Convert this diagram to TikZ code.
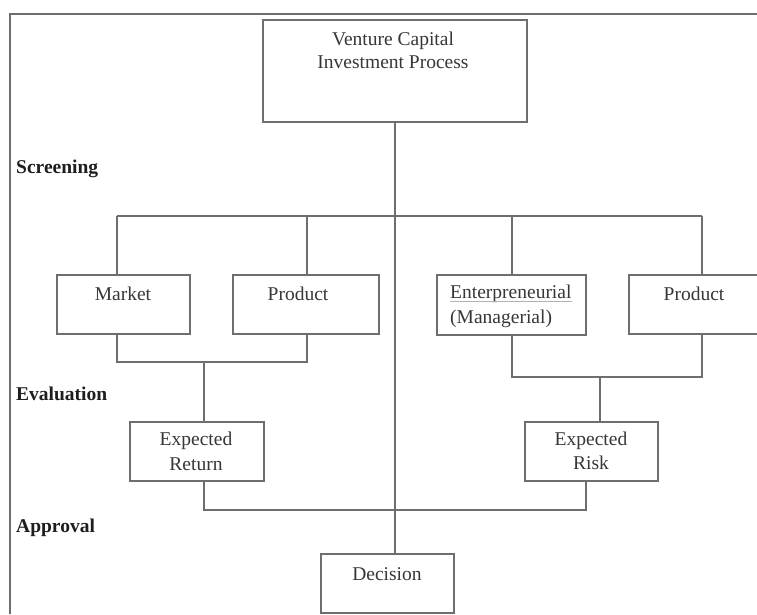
\documentclass[tikz,border=0pt]{standalone}
\usepackage{fontspec}
\setmainfont{Liberation Serif}
\definecolor{lc}{RGB}{110,110,110}
\definecolor{tc}{RGB}{55,55,55}
\definecolor{bc}{RGB}{30,30,30}
\begin{document}
\begin{tikzpicture}[x=1pt,y=-1pt,
  line/.style={draw=lc,line width=1.8pt},
  box/.style={rectangle,draw=lc,line width=1.8pt,inner sep=0pt,minimum height=59pt},
  txt/.style={inner sep=0pt,anchor=base,font=\fontsize{19.5}{23}\selectfont,text=tc},
  txtl/.style={inner sep=0pt,anchor=base west,font=\fontsize{19.5}{23}\selectfont,text=tc},
  lab/.style={inner sep=0pt,anchor=base west,font=\fontsize{19.5}{23}\selectfont\bfseries,text=bc}]
\useasboundingbox (0,0) rectangle (757,614);
\fill[white] (0,0) rectangle (757,614);
% frame
\coordinate (f1) at (10,614);
\coordinate (f2) at (10,14);
\coordinate (f3) at (757,14);
\draw[line] (f1) -- (f2) -- (f3);
% boxes
\node[box,minimum width=264pt,minimum height=102pt] (top) at (395,71) {};
\node[box,minimum width=133pt] (market) at (123.5,304.5) {};
\node[box,minimum width=146pt] (prod1) at (306,304.5) {};
\node[box,minimum width=149pt,minimum height=60pt] (ent) at (511.5,305) {};
\node[box,minimum width=146pt] (prod2) at (702,304.5) {};
\node[box,minimum width=134pt] (ret) at (197,451.5) {};
\node[box,minimum width=133pt] (risk) at (591.5,451.5) {};
\node[box,minimum width=133pt] (dec) at (387.5,583.5) {};
% texts
\node[txt] (topa) at (393,45) {Venture Capital};
\node[txt] (topb) at (393,68) {Investment Process};
\node[txt] (markett) at (123,300) {Market};
\node[txt] (prod1t) at (298,300) {Product};
\node[txtl] (enta) at (450,298) {Enterpreneurial};
\node[txtl] (entb) at (450,323) {(Managerial)};
\node[txt] (prod2t) at (694,300) {Product};
\node[txt] (reta) at (196,445) {Expected};
\node[txt] (retb) at (196,470) {Return};
\node[txt] (riska) at (591,445) {Expected};
\node[txt] (riskb) at (591,469) {Risk};
\node[txt] (dect) at (387,580) {Decision};
\draw[draw=gray!60,line width=1.2pt] ([yshift=-3.5pt]enta.base west) -- ([yshift=-3.5pt]enta.base east);
% stage labels
\node[lab] (scr) at (16,173) {Screening};
\node[lab] (eva) at (16,400) {Evaluation};
\node[lab] (app) at (16,532) {Approval};
% junction coordinates
\coordinate (j1) at (117,216);
\coordinate (j2) at (307,216);
\coordinate (j3) at (512,216);
\coordinate (j4) at (702,216);
\coordinate (k1) at (117,362);
\coordinate (k2) at (307,362);
\coordinate (km) at (204,362);
\coordinate (l1) at (512,377);
\coordinate (l2) at (702,377);
\coordinate (lm) at (600,377);
\coordinate (m1) at (204,510);
\coordinate (m2) at (586,510);
% connectors
\draw[line] (top.south) -- (top.south |- dec.north);
\draw[line] (j1) -- (j4);
\draw[line] (j1) -- (j1 |- market.north);
\draw[line] (j2) -- (j2 |- prod1.north);
\draw[line] (j3) -- (j3 |- ent.north);
\draw[line] (j4) -- (j4 |- prod2.north);
\draw[line] (k1 |- market.south) -- (k1) -- (k2) -- (k2 |- prod1.south);
\draw[line] (km) -- (km |- ret.north);
\draw[line] (l1 |- ent.south) -- (l1) -- (l2) -- (l2 |- prod2.south);
\draw[line] (lm) -- (lm |- risk.north);
\draw[line] (m1 |- ret.south) -- (m1) -- (m2) -- (m2 |- risk.south);
\end{tikzpicture}
\end{document}
